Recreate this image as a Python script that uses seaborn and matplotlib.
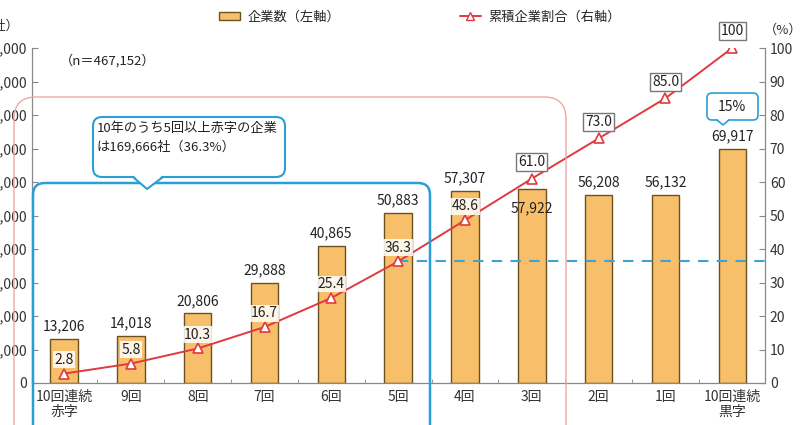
import numpy as np
import matplotlib
matplotlib.use("Agg")
import matplotlib.pyplot as plt
import matplotlib.transforms as mtransforms
from matplotlib.patches import FancyBboxPatch, Polygon, Patch
from matplotlib.lines import Line2D
import seaborn as sns

# --- data ---
categories = ["10回連続\n赤字", "9回", "8回", "7回", "6回", "5回",
              "4回", "3回", "2回", "1回", "10回連続\n黒字"]
companies = [13206, 14018, 20806, 29888, 40865, 50883,
             57307, 57922, 56208, 56132, 69917]
cum_share = [2.8, 5.8, 10.3, 16.7, 25.4, 36.3, 48.6, 61.0, 73.0, 85.0, 100]
cum_labels = ["2.8", "5.8", "10.3", "16.7", "25.4", "36.3",
              "48.6", "61.0", "73.0", "85.0", "100"]
left_ticks = list(range(0, 100001, 10000))
right_ticks = list(range(0, 101, 10))

BAR = "#F8BF6A"
BAR_EDGE = "#6b5020"
RED = "#E0393E"
BLUE = "#2a9fd6"
PINK = "#f0a6a6"

sns.set_style("ticks")
plt.rcParams["font.family"] = ["Noto Sans CJK JP", "DejaVu Sans"]

fig = plt.figure(figsize=(8, 4.25), dpi=100)
ax = fig.add_axes([32 / 800, 42 / 425, 733 / 800, 335 / 425])
ax2 = ax.twinx()

# pixel coordinates of the image (y down)
px = mtransforms.Affine2D().scale(1 / 800, -1 / 425).translate(0, 1) + fig.transFigure

# --- bars ---
sns.barplot(x=categories, y=companies, ax=ax, color=BAR, saturation=1,
            edgecolor=BAR_EDGE, linewidth=1, width=0.41, zorder=2)
ax.set_xlim(-0.48, 10.49)
ax.set_ylim(0, 100000)
ax.set_yticks(left_ticks)
ax.set_yticklabels([f"{v:,}" for v in left_ticks])
ax.set_xticks(range(len(categories)))
ax.set_xticklabels(categories, fontsize=10, color="#333333", linespacing=1.05)
ax.set_xticks(np.arange(0.5, 10, 1), minor=True)
ax.tick_params(axis="x", which="major", length=0, pad=5)
ax.tick_params(axis="x", which="minor", length=3, direction="in", color="#888888")
ax.tick_params(axis="y", direction="in", length=4, labelsize=10,
               colors="#888888", labelcolor="#333333")

for i, v in enumerate(companies):
    off = -14 if i == 7 else 9
    ax.annotate(f"{v:,}", (i, v), xytext=(0, off), textcoords="offset points",
                ha="center", va="center", fontsize=10, color="#222222", zorder=5)

# --- cumulative line ---
x_idx = np.arange(len(cum_share))
sns.lineplot(x=x_idx, y=cum_share, ax=ax2, color=RED, linewidth=1.4,
             marker="^", markersize=7, markerfacecolor="white",
             markeredgecolor=RED, markeredgewidth=1.2, zorder=4)
ax2.plot([5, 10.49], [cum_share[5], cum_share[5]], color="#3aa5d5",
         lw=1.5, ls=(0, (5, 4)), zorder=3)
ax2.set_ylim(0, 100)
ax2.set_yticks(right_ticks)
ax2.tick_params(axis="y", direction="in", length=4, labelsize=10,
                colors="#888888", labelcolor="#333333")

for i, (v, lab) in enumerate(zip(cum_share, cum_labels)):
    if i >= 7:
        box = dict(boxstyle="square,pad=0.15", fc="white", ec="#777777", lw=1)
        off = 12
    else:
        box = dict(boxstyle="square,pad=0.1", fc="white", ec="none", alpha=0.85)
        off = 10
    ax2.annotate(lab, (i, v), xytext=(0, off), textcoords="offset points",
                 ha="center", va="center", fontsize=10, color="#222222",
                 bbox=box, zorder=6)

for a in (ax, ax2):
    a.spines["top"].set_visible(False)
    for s in ("left", "right", "bottom"):
        a.spines[s].set_color("#888888")
ax.set_xlabel("")

# --- annotations in figure pixels ---
fig.patches.append(FancyBboxPatch((14, 97), 552, 360,
                                  boxstyle="round,pad=0,rounding_size=22",
                                  fc="none", ec=PINK, lw=1, transform=px, zorder=1))
fig.patches.append(FancyBboxPatch((33, 183), 397, 270,
                                  boxstyle="round,pad=0,rounding_size=12",
                                  fc="none", ec=BLUE, lw=1.8, transform=px, zorder=1))

# callout for red group
fig.patches.append(FancyBboxPatch((93, 117), 192, 60,
                                  boxstyle="round,pad=0,rounding_size=9",
                                  fc="white", ec=BLUE, lw=1.5, transform=px, zorder=7))
fig.patches.append(Polygon([(133, 175), (163, 175), (147, 189)], closed=True,
                           fc="white", ec="none", transform=px, zorder=8))
fig.lines.append(Line2D([133, 147, 163], [177, 189, 177], color=BLUE, lw=1.5,
                        transform=px, zorder=9))
fig.text(97 / 800, 1 - 138 / 425, "10年のうち5回以上赤字の企業\nは169,666社（36.3%）",
         ha="left", va="center", fontsize=9.5, color="#222222", linespacing=1.5,
         zorder=10)

# callout 15%
fig.patches.append(FancyBboxPatch((707, 93), 51, 27,
                                  boxstyle="round,pad=0,rounding_size=5",
                                  fc="white", ec=BLUE, lw=1.2, transform=px, zorder=7))
fig.patches.append(Polygon([(717, 118.5), (729, 118.5), (723, 125)], closed=True,
                           fc="white", ec="none", transform=px, zorder=8))
fig.lines.append(Line2D([717, 723, 729], [120, 125, 120], color=BLUE, lw=1.2,
                        transform=px, zorder=9))
fig.text(732 / 800, 1 - 107 / 425, "15%", ha="center", va="center",
         fontsize=10, color="#222222", zorder=10)

fig.text(108 / 800, 1 - 61 / 425, "（n＝467,152）", ha="center", va="center",
         fontsize=9.5, color="#222222")
fig.text(20 / 800, 1 - 26 / 425, "（社）", ha="right", va="center",
         fontsize=9.5, color="#333333")
fig.text(783 / 800, 1 - 30 / 425, "（%）", ha="center", va="center",
         fontsize=9.5, color="#333333")

# --- legend ---
handles = [Patch(fc=BAR, ec=BAR_EDGE, lw=1),
           Line2D([], [], color=RED, lw=1.4, marker="^", markersize=6,
                  markerfacecolor="white", markeredgecolor=RED)]
fig.legend(handles, ["企業数（左軸）", "累積企業割合（右軸）"], ncol=2,
           loc="center", bbox_to_anchor=(420 / 800, 1 - 17 / 425),
           frameon=False, fontsize=9.5, columnspacing=9, handlelength=1.6,
           handleheight=0.6, handletextpad=0.6)

fig.savefig("out.png", dpi=100)
